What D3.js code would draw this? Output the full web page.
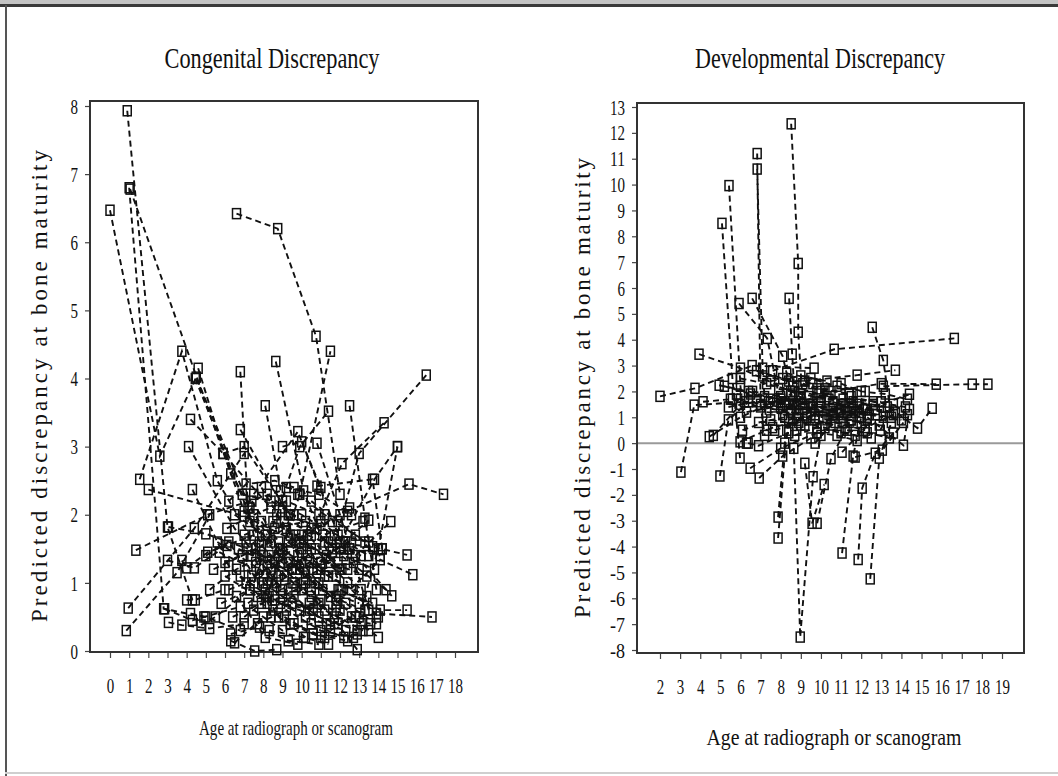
<!DOCTYPE html>
<html>
<head>
<meta charset="utf-8">
<script src="https://cdn.jsdelivr.net/npm/d3@7"></script>
<style>
  html, body { margin: 0; padding: 0; background: #fff; }
  svg { display: block; }
  text { font-family: "Liberation Serif", "DejaVu Serif", serif; fill: #111; }
</style>
</head>
<body>
<svg id="chart" width="1058" height="776"></svg>
<script>
// Each track is one subject: successive [age, predicted discrepancy] readings, flattened.
const congenitalTracks = [
  [0.0,6.47, 2.6,2.86, 4.5,4.02, 7.3,2.1],
  [0.9,7.93, 3.0,1.82, 4.3,0.75],
  [1.0,6.8, 2.8,0.62, 4.9,0.5],
  [1.05,6.78, 7.0,2.05, 9.5,1.2],
  [6.6,6.42, 8.75,6.2, 10.75,4.62, 12.0,2.3],
  [0.85,0.3, 3.5,1.15, 5.2,2.0],
  [0.95,0.63, 4.4,1.8, 7.0,2.9],
  [1.35,1.48, 5.1,2.0, 8.9,2.35],
  [1.55,2.52, 3.75,4.4, 5.6,2.5, 8.5,1.1],
  [2.0,2.37, 7.0,1.98, 10.5,1.5],
  [4.6,4.15, 6.3,2.6, 8.2,1.7],
  [4.45,4.0, 7.9,1.55, 10.5,0.8],
  [6.8,4.1, 7.2,2.1, 8.4,0.5],
  [8.65,4.25, 10.1,2.35, 12.1,0.9],
  [8.2,0.8, 9.9,2.3, 11.5,4.4],
  [11.6,1.45, 13.0,2.9, 16.5,4.05],
  [8.1,3.6, 9.0,2.2, 10.2,1.0],
  [12.5,3.6, 13.3,1.95, 13.9,0.9],
  [7.5,1.0, 9.9,3.0, 11.4,3.52],
  [10.5,1.7, 12.1,2.75, 14.3,3.35],
  [4.2,3.4, 5.9,2.9, 8.4,2.1],
  [4.1,3.0, 6.5,1.8, 9.0,0.9],
  [6.8,3.25, 9.3,2.0, 12.0,1.2],
  [5.9,2.9, 7.0,3.0, 9.4,2.0],
  [9.0,3.0, 10.0,3.07, 11.0,2.4],
  [12.0,1.6, 13.8,2.52, 15.0,3.0],
  [13.0,0.5, 14.0,1.5, 15.0,3.0],
  [7.5,2.3, 9.8,3.22, 12.2,1.5],
  [10.8,3.05, 12.0,2.0, 13.5,0.6],
  [12.4,2.05, 15.6,2.45, 17.4,2.3],
  [10.8,2.42, 13.7,2.52, 14.2,1.5],
  [12.8,1.4, 14.65,1.9],
  [11.0,1.3, 13.5,1.92],
  [11.2,1.6, 13.7,1.53, 15.5,1.41],
  [11.8,0.7, 14.1,1.34, 15.8,1.12],
  [12.5,1.5, 14.7,0.81],
  [12.0,0.9, 14.1,0.6, 15.5,0.6],
  [11.5,0.4, 13.9,0.55, 16.8,0.5],
  [10.5,0.9, 12.9,0.02],
  [6.3,0.15, 7.55,0.0, 8.7,0.02],
  [6.5,0.12, 8.0,0.5],
  [2.85,0.62, 4.3,0.45, 6.8,0.65],
  [3.05,0.42, 3.75,0.38, 5.2,0.33, 7.0,0.4],
  [4.0,0.75, 4.45,0.75, 6.0,0.9],
  [4.2,0.55, 5.0,0.5, 6.8,0.3],
  [4.75,0.38, 5.5,0.5, 7.3,0.9],
  [3.75,1.33, 4.0,1.22, 5.1,1.45, 7.5,1.7],
  [3.0,1.33, 4.4,1.22, 6.1,1.55],
  [3.05,1.82, 5.0,1.72, 7.2,1.5],
  [4.3,2.37, 6.2,1.25, 8.2,0.7],
  [5.6,1.6, 7.8,1.2, 9.6,0.8, 11.3,0.4],
  [6.0,1.3, 7.6,1.5, 9.1,1.1, 10.9,0.7],
  [6.2,0.9, 8.0,1.1, 9.8,1.4, 11.8,1.1],
  [6.5,2.0, 8.1,1.7, 9.9,1.2, 12.0,0.6],
  [6.8,1.1, 8.3,0.8, 10.2,0.5, 12.3,0.3],
  [7.0,1.7, 8.5,1.9, 10.1,1.6, 11.9,1.3],
  [7.2,0.7, 8.7,1.0, 10.4,1.3, 12.6,1.6],
  [7.4,2.2, 8.8,1.6, 10.7,1.0, 12.8,0.5],
  [7.6,1.3, 9.0,1.5, 10.8,1.8, 12.5,2.1],
  [7.7,0.4, 9.2,0.6, 11.0,0.3, 12.7,0.2],
  [7.9,1.9, 9.3,1.3, 11.1,0.9, 13.0,0.7],
  [8.0,1.0, 9.5,0.7, 11.2,0.6, 13.2,0.3],
  [8.2,2.3, 9.6,2.0, 11.4,1.6, 13.1,1.4],
  [8.3,1.4, 9.7,1.2, 11.5,1.3, 13.4,1.1],
  [8.5,0.6, 10.0,0.9, 11.7,0.5, 13.6,0.4],
  [8.6,1.8, 10.2,1.9, 11.9,1.7, 13.5,1.6],
  [8.8,1.1, 10.3,1.4, 12.1,1.2],
  [9.0,2.1, 10.5,1.8, 12.2,1.4, 13.8,1.2],
  [9.1,0.5, 10.6,0.25, 12.4,0.15],
  [9.3,1.6, 10.8,1.2, 12.6,0.9, 14.0,0.5],
  [5.4,1.2, 6.9,1.4, 8.4,1.6, 10.0,1.5],
  [5.8,0.7, 7.3,0.9, 8.9,0.7, 10.6,0.6],
  [6.1,1.8, 7.5,2.0, 9.2,2.2, 10.9,2.0],
  [6.4,0.5, 7.9,0.7, 9.4,0.4, 11.0,0.2],
  [6.7,1.5, 8.2,1.3, 9.7,1.7, 11.6,1.9],
  [6.9,2.3, 8.4,2.2, 10.0,2.0, 11.7,1.7],
  [7.1,1.0, 8.6,1.3, 10.1,1.0, 11.8,0.8],
  [7.3,1.9, 8.8,1.4, 10.3,1.7, 12.0,1.5],
  [7.5,0.6, 9.0,0.3, 10.5,0.4, 12.2,0.2],
  [7.8,1.6, 9.2,1.8, 10.7,1.5, 12.4,1.0],
  [8.1,0.9, 9.5,1.0, 11.0,1.2, 12.7,1.3],
  [8.4,1.2, 9.9,1.6, 11.3,1.4, 13.1,0.9],
  [8.7,2.0, 10.0,1.3, 11.5,0.8, 13.3,0.6],
  [9.0,0.8, 10.4,0.6, 11.9,0.9, 13.7,0.7],
  [9.4,1.3, 10.9,1.0, 12.3,0.7, 13.9,0.4],
  [9.8,2.3, 11.2,2.0, 12.8,1.7, 14.2,1.5],
  [10.2,1.1, 11.6,1.5, 13.0,1.2, 14.4,0.9],
  [5.2,0.9, 6.6,1.2, 8.0,1.4, 9.6,1.0],
  [6.3,0.25, 7.8,0.35, 9.3,0.15, 10.9,0.1],
  [6.0,1.1, 7.7,0.8, 9.9,0.6, 11.9,0.4],
  [7.0,0.5, 8.9,0.9, 10.9,0.5, 12.9,0.3],
  [7.9,2.4, 9.4,1.7, 11.4,1.1, 13.4,0.8],
  [8.9,1.5, 10.6,1.2, 12.5,1.5, 14.1,1.4],
  [9.6,0.4, 11.2,0.2, 12.9,0.25],
  [10.5,2.2, 11.9,1.9, 13.3,1.6],
  [5.7,1.45, 7.2,1.25, 8.8,0.5, 10.2,0.2],
  [6.6,0.8, 8.1,0.2, 9.8,0.1],
  [7.4,1.4, 9.1,1.9, 11.1,1.7, 13.2,1.9],
  [8.3,0.3, 10.1,0.2, 11.4,0.1],
  [9.2,2.4, 10.9,2.3, 12.6,2.0],
  [6.2,2.2, 7.1,2.45, 8.6,2.5, 9.6,2.4],
  [10.4,0.7, 11.8,0.6, 13.1,0.4, 14.0,0.2],
  [11.0,1.9, 12.3,1.6, 13.5,1.4],
  [5.0,1.4, 6.2,1.6, 7.4,1.1, 8.9,1.3],
  [7.1,1.6, 8.2,1.0, 9.5,1.2],
  [8.6,0.75, 9.7,0.9, 11.0,0.75],
  [10.0,1.7, 11.2,1.1, 12.4,1.2],
  [11.5,0.3, 12.6,0.5, 13.5,0.3]
];

const developmentalTracks = [
  [8.52,12.35, 8.87,6.95, 8.87,4.29, 9.1,1.5],
  [6.83,11.2, 7.0,1.5, 7.2,0.3],
  [6.83,10.6, 7.1,2.9, 7.3,0.5],
  [5.43,9.96, 6.0,2.2, 6.3,0.0],
  [5.08,8.5, 5.6,2.5, 5.98,-0.58],
  [5.93,5.4, 7.33,4.05, 8.0,1.5],
  [6.58,5.6, 8.1,3.36, 8.8,1.0],
  [8.42,5.6, 8.57,3.44, 8.8,0.5],
  [12.55,4.48, 13.1,3.2, 13.5,1.0],
  [7.6,2.8, 10.66,3.63, 16.63,4.05],
  [3.94,3.44, 6.0,2.9, 8.5,2.0],
  [2.0,1.81, 3.74,2.12, 6.58,3.0, 9.66,2.9],
  [9.2,2.4, 11.8,2.63, 13.7,2.82],
  [10.5,2.0, 13.0,2.3, 15.73,2.28],
  [13.1,2.2, 17.52,2.28, 18.3,2.28],
  [13.0,1.6, 14.8,0.58, 15.53,1.35],
  [12.2,1.3, 14.4,1.89],
  [3.04,-1.12, 3.7,1.47, 6.2,1.6],
  [4.14,1.6, 5.5,1.7, 8.0,1.4],
  [4.45,0.25, 6.0,1.0, 8.5,1.9],
  [4.65,0.3, 6.0,1.5, 7.5,1.7],
  [4.94,2.24, 6.4,2.0, 8.2,1.6],
  [4.98,-1.27, 5.4,0.9, 6.4,1.6],
  [5.98,0.05, 7.6,0.6, 9.5,1.0],
  [6.38,0.0, 6.9,-0.1, 8.4,0.4],
  [6.48,-0.97, 8.0,-0.2, 9.8,0.4],
  [6.93,-1.35, 8.1,-0.5, 9.5,0.2],
  [7.87,-3.67, 8.3,0.5, 9.0,1.8],
  [7.87,-2.86, 8.2,0.0, 8.8,1.5],
  [8.65,-0.2, 8.97,-7.5, 9.61,-1.3, 10.0,0.3],
  [9.2,-0.78, 9.56,-3.1, 10.16,-1.6],
  [9.81,-3.1, 10.5,-0.6, 11.4,0.8],
  [11.05,-4.25, 11.6,-0.5, 12.0,1.0],
  [11.85,-4.5, 12.05,-1.74, 12.7,-0.39, 13.6,0.39],
  [12.45,-5.25, 12.9,-0.58, 13.5,0.8],
  [11.7,-0.54, 13.05,-0.27, 14.1,0.8],
  [12.3,1.0, 14.1,-0.08, 14.4,1.3],
  [11.05,-0.35, 12.2,0.6, 13.6,1.1],
  [9.71,0.0, 10.5,0.7, 11.5,0.9],
  [12.95,0.5, 13.6,1.5, 14.3,1.1],
  [5.2,2.2, 6.5,1.9, 8.0,1.7, 9.6,1.5],
  [5.6,1.7, 7.0,1.4, 8.5,1.2, 10.1,1.0],
  [6.0,2.5, 7.3,2.3, 8.7,2.0, 10.3,1.8],
  [6.3,1.2, 7.7,1.4, 9.1,1.3, 10.6,1.1],
  [6.6,2.0, 8.0,1.8, 9.4,1.5, 11.0,1.3],
  [6.9,0.8, 8.2,1.0, 9.7,0.9, 11.2,0.6],
  [7.1,2.6, 8.4,2.4, 9.8,2.1, 11.4,1.9],
  [7.4,1.6, 8.6,1.5, 10.0,1.6, 11.5,1.4],
  [7.7,0.5, 8.9,0.8, 10.2,0.6, 11.7,0.3],
  [7.9,2.1, 9.0,1.9, 10.4,1.7, 11.8,1.5],
  [8.1,1.1, 9.3,1.2, 10.6,1.0, 12.0,0.8],
  [8.3,2.7, 9.5,2.5, 10.8,2.2, 12.2,2.0],
  [8.5,1.3, 9.6,1.4, 10.9,1.2, 12.4,1.1],
  [8.7,0.3, 9.8,0.6, 11.0,0.4, 12.5,0.2],
  [8.9,1.8, 10.0,1.6, 11.2,1.4, 12.7,1.3],
  [9.1,2.3, 10.2,2.1, 11.4,1.9],
  [9.3,1.0, 10.4,1.1, 11.5,0.9, 12.9,0.7],
  [9.5,1.5, 10.6,1.3, 11.7,1.2, 13.1,1.0],
  [9.8,0.4, 10.8,0.3, 11.8,0.1],
  [10.0,2.0, 11.0,1.5, 12.1,1.3, 13.4,1.2],
  [10.3,0.9, 11.3,1.2, 12.3,0.9],
  [5.4,1.4, 6.8,1.6, 8.3,1.5, 9.9,1.3],
  [6.1,0.5, 7.5,0.9, 9.0,0.7],
  [6.8,2.8, 8.1,2.5, 9.6,2.3],
  [7.3,1.2, 8.8,1.1, 10.5,1.3, 12.6,1.5],
  [8.0,1.6, 9.4,1.8, 11.1,1.7, 13.0,1.6],
  [8.6,2.2, 9.9,1.9, 11.6,1.6, 13.3,1.4],
  [9.2,0.7, 10.7,0.8, 12.2,0.5],
  [10.6,1.6, 11.6,1.3, 12.8,1.1, 14.0,0.9],
  [11.0,2.3, 12.0,2.0, 13.2,1.9, 14.3,1.7],
  [11.3,0.5, 12.3,0.4, 13.4,0.2],
  [7.5,2.4, 9.0,2.6, 10.3,2.4],
  [5.8,1.9, 7.2,1.8, 8.6,1.6],
  [8.4,0.9, 9.7,1.1, 11.1,1.0, 12.3,1.3],
  [9.9,1.4, 11.0,1.1, 11.9,1.4, 13.7,1.2],
  [11.5,1.8, 12.6,1.6, 14.2,1.4]
];

// Axis tick labels
const congenitalAgeTicks = [0,1,2,3,4,5,6,7,8,9,10,11,12,13,14,15,16,17,18];
const congenitalValueTicks = [0,1,2,3,4,5,6,7,8];
const developmentalAgeTicks = [2,3,4,5,6,7,8,9,10,11,12,13,14,15,16,17,18,19];
const developmentalValueTicks = [-8,-7,-6,-5,-4,-3,-2,-1,0,1,2,3,4,5,6,7,8,9,10,11,12,13];

const panelTitles = ["Congenital Discrepancy", "Developmental Discrepancy"];
const xAxisTitle = "Age at radiograph  or scanogram";
const yAxisTitle = "Predicted  discrepancy  at bone maturity";

const svg = d3.select("#chart");

// Window-style frame around the figure
svg.append("rect").attr("x", 0).attr("y", 0).attr("width", 1058).attr("height", 5).attr("fill", "#c4c4c4");
svg.append("rect").attr("x", 0).attr("y", 4).attr("width", 1058).attr("height", 3).attr("fill", "#3a3a3a");
svg.append("rect").attr("x", 5).attr("y", 5).attr("width", 2).attr("height", 771).attr("fill", "#555");
svg.append("rect").attr("x", 5).attr("y", 772).attr("width", 1053).attr("height", 2).attr("fill", "#cfcfcf");

function toPoints(track) {
  const pts = [];
  for (let i = 0; i < track.length; i += 2) pts.push([track[i], track[i + 1]]);
  return pts;
}

function drawPanel(cfg) {
  const g = svg.append("g");
  const x = d3.scaleLinear().domain(cfg.xDomain).range(cfg.xRange);
  const y = d3.scaleLinear().domain(cfg.yDomain).range(cfg.yRange);
  const f = cfg.frame;

  // plot frame
  g.append("rect")
    .attr("x", f.left).attr("y", f.top)
    .attr("width", f.right - f.left).attr("height", f.bottom - f.top)
    .attr("fill", "none").attr("stroke", "#333").attr("stroke-width", 2);

  if (cfg.zeroLine) {
    g.append("line")
      .attr("x1", f.left + 1).attr("x2", f.right - 1)
      .attr("y1", y(0)).attr("y2", y(0))
      .attr("stroke", "#9a9a9a").attr("stroke-width", 2);
  }

  // axes
  const xAxis = g.append("g")
    .attr("transform", `translate(0,${f.bottom + 1})`)
    .call(d3.axisBottom(x).tickValues(cfg.xTicks).tickSize(5).tickSizeOuter(0).tickPadding(20).tickFormat(d3.format("d")));
  const yAxis = g.append("g")
    .attr("transform", `translate(${f.left - 1},0)`)
    .call(d3.axisLeft(y).tickValues(cfg.yTicks).tickSize(4).tickSizeOuter(0).tickPadding(7).tickFormat(d => d < 0 ? "-" + Math.abs(d) : String(d)));
  [xAxis, yAxis].forEach(a => {
    a.select(".domain").remove();
    a.selectAll(".tick line").attr("stroke", "#444").attr("stroke-width", 1.2);
    a.selectAll(".tick text")
      .attr("fill", "#111")
      .style("font-family", '"Liberation Serif", serif')
      .style("font-size", "21px")
      .attr("textLength", function () { return this.textContent.length * 7.5; })
      .attr("lengthAdjust", "spacingAndGlyphs");
  });
  yAxis.selectAll(".tick text").attr("dy", "0.34em");

  // subject trajectories
  const line = d3.line().x(d => x(d[0])).y(d => y(d[1]));
  const tracks = cfg.tracks.map(toPoints);
  g.append("g").selectAll("path").data(tracks).join("path")
    .attr("d", line)
    .attr("fill", "none")
    .attr("stroke", "#111")
    .attr("stroke-width", 1.9)
    .attr("stroke-dasharray", "6,4");

  const allPts = tracks.flat();
  g.append("g").selectAll("rect").data(allPts).join("rect")
    .attr("x", d => x(d[0]) - 4)
    .attr("y", d => y(d[1]) - 5)
    .attr("width", 8).attr("height", 10)
    .attr("fill", "none")
    .attr("stroke", "#111")
    .attr("stroke-width", 1.5);

  // titles
  g.append("text")
    .attr("x", cfg.title.x).attr("y", cfg.title.y)
    .attr("text-anchor", "middle")
    .style("font-size", "30px")
    .attr("textLength", cfg.title.len).attr("lengthAdjust", "spacingAndGlyphs")
    .text(cfg.title.text);

  g.append("text")
    .attr("x", cfg.xLabel.x).attr("y", cfg.xLabel.y)
    .attr("text-anchor", "middle")
    .style("font-size", cfg.xLabel.size + "px")
    .attr("textLength", cfg.xLabel.len).attr("lengthAdjust", "spacingAndGlyphs")
    .text(xAxisTitle);

  g.append("text")
    .attr("transform", `translate(${cfg.yLabel.x},${cfg.yLabel.y}) rotate(-90)`)
    .attr("text-anchor", "middle")
    .style("font-size", "23px")
    .attr("textLength", cfg.yLabel.len).attr("lengthAdjust", "spacing")
    .text(yAxisTitle);
}

drawPanel({
  tracks: congenitalTracks,
  xDomain: [0, 18], xRange: [110, 455],
  yDomain: [0, 8], yRange: [651, 106],
  frame: { left: 90, top: 101, right: 478, bottom: 652 },
  xTicks: congenitalAgeTicks, yTicks: congenitalValueTicks,
  zeroLine: false,
  title: { text: panelTitles[0], x: 272, y: 68, len: 215 },
  xLabel: { x: 296, y: 735, len: 194, size: 22 },
  yLabel: { x: 47, y: 386, len: 472 }
});

drawPanel({
  tracks: developmentalTracks,
  xDomain: [2, 19], xRange: [660, 1002],
  yDomain: [-8, 13], yRange: [650, 107],
  frame: { left: 637, top: 103, right: 1024, bottom: 653 },
  xTicks: developmentalAgeTicks, yTicks: developmentalValueTicks,
  zeroLine: true,
  title: { text: panelTitles[1], x: 820, y: 68, len: 250 },
  xLabel: { x: 834, y: 745, len: 255, size: 24 },
  yLabel: { x: 590, y: 388, len: 460 }
});
</script>
</body>
</html>
